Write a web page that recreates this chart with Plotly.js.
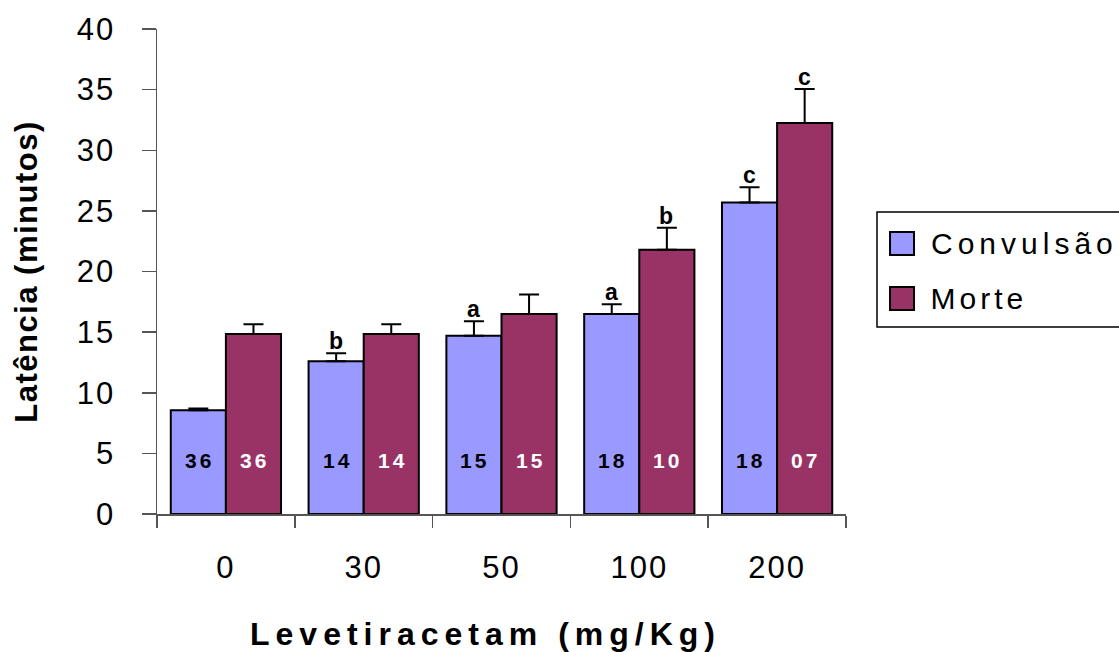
<!DOCTYPE html>
<html>
<head>
<meta charset="utf-8">
<script src="https://cdn.plot.ly/plotly-3.0.1.min.js"></script>
<style>
  html, body { margin: 0; padding: 0; background: #fff; }
  #chart { width: 1119px; height: 652px; }
  .xtick text, .ytick text { letter-spacing: 2px; }
  text.xtitle { letter-spacing: 6px; transform: translateX(-16px); }
  text.ytitle { letter-spacing: 1.5px; }
  .annotation-text { letter-spacing: 3px; }
</style>
</head>
<body>
<div id="chart"></div>
<script>
// Levetiracetam doses (mg/Kg)
const doses = ['0', '30', '50', '100', '200'];
const seriesNames = ['Convulsão', 'Morte'];

// mean latency (minutes) and error (upper only)
const convulsao = [8.55, 12.6, 14.7, 16.5, 25.7];
const convulsaoErr = [0.15, 0.65, 1.2, 0.8, 1.25];
const morte = [14.85, 14.85, 16.5, 21.8, 32.25];
const morteErr = [0.8, 0.8, 1.6, 1.8, 2.8];

// number of animals per group
const convulsaoN = ['36', '14', '15', '18', '18'];
const morteN = ['36', '14', '15', '10', '07'];

// significance letters above each bar
const convulsaoSig = ['', 'b', 'a', 'a', 'c'];
const morteSig = ['', '', '', 'b', 'c'];

const colors = ['#9999FF', '#993366'];
const FONT = 'Liberation Sans, Arial, sans-serif';

function barTrace(name, y, err, color) {
  return {
    type: 'bar',
    name: name,
    x: doses,
    y: y,
    marker: { color: color, line: { color: '#000', width: 2 } },
    error_y: {
      type: 'data', symmetric: false, array: err,
      arrayminus: err.map(() => 0),
      color: '#000', thickness: 2, width: 10
    },
    hoverinfo: 'x+y'
  };
}

const traces = [
  barTrace(seriesNames[0], convulsao, convulsaoErr, colors[0]),
  barTrace(seriesNames[1], morte, morteErr, colors[1])
];

// half a bar width in px, for placing labels over each bar of a group
const plotW = 1119 - 157 - 273;
const half = plotW / doses.length * 0.8 / 4;

// on a category axis, annotations are positioned by category index
const annotations = [];
doses.forEach((d, i) => {
  annotations.push({
    x: i, y: 4.45, xref: 'x', yref: 'y', xshift: -half + 1, showarrow: false,
    text: convulsaoN[i], font: { family: FONT, size: 21, color: '#000', weight: 'bold' }
  });
  annotations.push({
    x: i, y: 4.45, xref: 'x', yref: 'y', xshift: half + 1, showarrow: false,
    text: morteN[i], font: { family: FONT, size: 21, color: '#fff', weight: 'bold' }
  });
  if (convulsaoSig[i]) annotations.push({
    x: i, y: convulsao[i] + convulsaoErr[i], xref: 'x', yref: 'y', xshift: -half + 1,
    yanchor: 'bottom', yshift: -3, showarrow: false,
    text: convulsaoSig[i], font: { family: FONT, size: 23, color: '#000', weight: 'bold' }
  });
  if (morteSig[i]) annotations.push({
    x: i, y: morte[i] + morteErr[i], xref: 'x', yref: 'y', xshift: half + 1,
    yanchor: 'bottom', yshift: -3, showarrow: false,
    text: morteSig[i], font: { family: FONT, size: 23, color: '#000', weight: 'bold' }
  });
});

// legend box drawn beside the plot area
const shapes = [
  { type: 'rect', xref: 'paper', yref: 'paper', x0: 1.045, x1: 1.5, y0: 0.3856, y1: 0.6227,
    line: { color: '#000', width: 1.5 }, fillcolor: '#fff', layer: 'below' }
];
const legendRows = [0.5577, 0.4443];
const legendSpacing = [5, 4];
const legendShift = [6, -1];
const legendStart = annotations.length;
seriesNames.forEach((name, k) => {
  shapes.push({
    type: 'rect', xref: 'paper', yref: 'paper',
    x0: 1.0639, x1: 1.0987, y0: legendRows[k] - 0.0237, y1: legendRows[k] + 0.0237,
    line: { color: '#000', width: 2 }, fillcolor: colors[k]
  });
  annotations.push({
    xref: 'paper', yref: 'paper', x: 1.1248, y: legendRows[k], xanchor: 'left', yanchor: 'middle',
    xshift: legendShift[k],
    showarrow: false, text: name, font: { family: FONT, size: 30, color: '#000' }
  });
});

// per-entry letter spacing for the legend labels
const css = document.createElement('style');
css.textContent = seriesNames.map((n, k) =>
  `g.annotation[data-index="${legendStart + k}"] text { letter-spacing: ${legendSpacing[k]}px; }`
).join('\n');
document.head.appendChild(css);

const layout = {
  width: 1119, height: 652,
  margin: { l: 157, r: 273, t: 29, b: 138 },
  paper_bgcolor: '#fff', plot_bgcolor: '#fff',
  barmode: 'group', bargap: 0.2, bargroupgap: 0,
  showlegend: false,
  font: { family: FONT, color: '#000' },
  xaxis: {
    type: 'category', range: [-0.5, doses.length - 0.5],
    showline: true, linecolor: '#555', linewidth: 1.5,
    ticks: 'outside', tickson: 'boundaries', ticklen: 12, tickcolor: '#555', tickwidth: 1.5,
    tickfont: { family: FONT, size: 31, color: '#000' },
    tickangle: 0,
    ticklabelstandoff: 25,
    showgrid: false, zeroline: false,
    automargin: false,
    title: { text: 'Levetiracetam (mg/Kg)', standoff: 44,
             font: { family: FONT, size: 32, color: '#000', weight: 'bold' } }
  },
  yaxis: {
    range: [0, 40], dtick: 5,
    showline: true, linecolor: '#555', linewidth: 1.5,
    ticks: 'outside', ticklen: 14, tickcolor: '#555', tickwidth: 1.5,
    tickfont: { family: FONT, size: 31, color: '#000' },
    ticklabelstandoff: 20,
    showgrid: false, zeroline: false,
    automargin: false,
    title: { text: 'Latência (minutos)', standoff: 30,
             font: { family: FONT, size: 31, color: '#000', weight: 'bold' } }
  },
  annotations: annotations,
  shapes: shapes
};

Plotly.newPlot('chart', traces, layout, { displayModeBar: false, staticPlot: true });
</script>
</body>
</html>
